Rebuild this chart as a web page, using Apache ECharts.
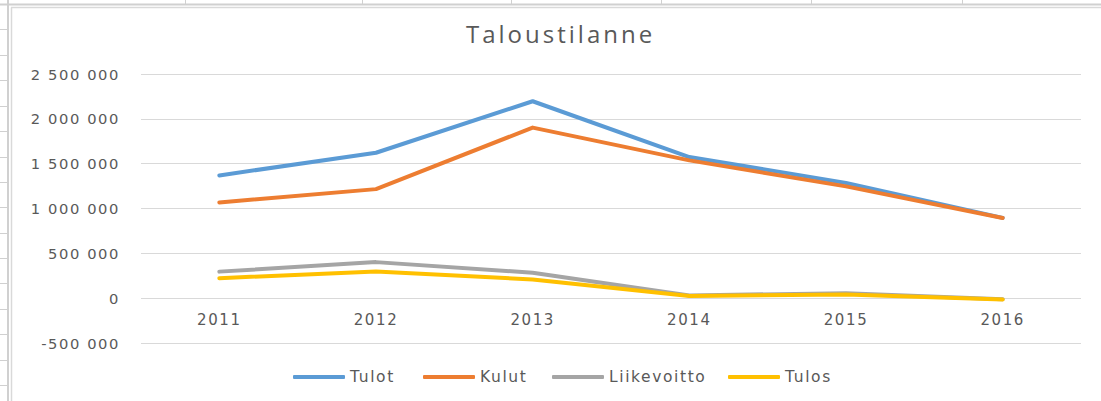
<!DOCTYPE html>
<html>
<head>
<meta charset="utf-8">
<script src="https://cdn.jsdelivr.net/npm/echarts@6/dist/echarts.min.js"></script>
<style>
  html, body { margin: 0; padding: 0; background: #fff; }
  #chart { width: 1101px; height: 401px; }
  #chart text { letter-spacing: 1.6px; }
  #chart text[style*="Open Sans"] { letter-spacing: 3px; }
</style>
</head>
<body>
<div id="chart"></div>
<script>
const categories = ['2011', '2012', '2013', '2014', '2015', '2016'];
const tulot = [1369000, 1622000, 2196000, 1574000, 1285000, 895000];
const kulut = [1068000, 1216000, 1902000, 1537000, 1247000, 895000];
const liikevoitto = [296000, 402000, 284000, 30000, 56000, -12000];
const tulos = [223000, 298000, 209000, 24000, 40000, -14000];
const seriesNames = ['Tulot', 'Kulut', 'Liikevoitto', 'Tulos'];
const seriesColors = ['#5B9BD5', '#ED7D31', '#A5A5A5', '#FFC000'];
const yTicks = { min: -500000, max: 2500000, step: 500000 };

const sheetCols = [185, 362, 511, 661, 811, 962];
const sheetRows = [29, 55, 80, 106, 131, 157, 182, 207, 233, 258, 283, 309, 334, 360, 385];

function fmt(v) {
  const neg = v < 0;
  const s = String(Math.abs(v)).replace(/\B(?=(\d{3})+(?!\d))/g, ' ');
  return (neg ? '-' : '') + s;
}

const chart = echarts.init(document.getElementById('chart'), null, { renderer: 'svg' });

const lineColor = '#d9d9d9';
const graphics = [];
graphics.push({ type: 'line', shape: { x1: 0, y1: 4.5, x2: 1101, y2: 4.5 }, style: { stroke: '#d0d0d0', lineWidth: 2 }, z: -1, silent: true });
sheetCols.forEach(x => graphics.push({ type: 'line', shape: { x1: x + 0.5, y1: 0, x2: x + 0.5, y2: 5 }, style: { stroke: '#d0d0d0', lineWidth: 1 }, z: -1, silent: true }));
graphics.push({ type: 'line', shape: { x1: 8, y1: 0, x2: 8, y2: 401 }, style: { stroke: '#d0d0d0', lineWidth: 2 }, z: -1, silent: true });
sheetRows.forEach(y => graphics.push({ type: 'line', shape: { x1: 0, y1: y + 0.5, x2: 8, y2: y + 0.5 }, style: { stroke: '#d0d0d0', lineWidth: 1 }, z: -1, silent: true }));
graphics.push({ type: 'line', shape: { x1: 11.5, y1: 7.5, x2: 11.5, y2: 401 }, style: { stroke: '#d9d9d9', lineWidth: 1.5 }, z: -1, silent: true });
graphics.push({ type: 'line', shape: { x1: 11, y1: 7.5, x2: 1101, y2: 7.5 }, style: { stroke: '#d9d9d9', lineWidth: 1.5 }, z: -1, silent: true });

const legendLefts = [293, 423, 552, 728];
const legends = seriesNames.map((n, i) => ({
  data: [n],
  left: legendLefts[i],
  top: 369,
  padding: 0,
  itemWidth: 52,
  itemHeight: 4,
  itemGap: 5,
  icon: 'roundRect',
  textStyle: { color: '#595959', fontSize: 15.5, fontFamily: 'DejaVu Sans' },
  selectedMode: false
}));

const seriesData = [tulot, kulut, liikevoitto, tulos];

chart.setOption({
  animation: false,
  backgroundColor: '#ffffff',
  color: seriesColors,
  title: {
    text: 'Taloustilanne',
    left: 466,
    top: 21,
    padding: 0,
    textStyle: { color: '#595959', fontSize: 24, fontWeight: 'normal', fontFamily: 'Open Sans' }
  },
  graphic: graphics,
  legend: legends,
  grid: { left: 141, right: 20, top: 74, bottom: 58, containLabel: false },
  xAxis: {
    type: 'category',
    data: categories,
    boundaryGap: true,
    offset: -45,
    axisLine: { show: false, onZero: false },
    axisTick: { show: false },
    axisLabel: { color: '#595959', fontSize: 15, fontFamily: 'DejaVu Sans', margin: 14 },
    splitLine: { show: false }
  },
  yAxis: {
    type: 'value',
    min: yTicks.min,
    max: yTicks.max,
    interval: yTicks.step,
    axisLine: { show: false },
    axisTick: { show: false },
    axisLabel: { color: '#595959', fontSize: 14.7, fontFamily: 'DejaVu Sans', margin: 21, formatter: fmt },
    splitLine: { show: true, lineStyle: { color: lineColor, width: 1 } }
  },
  series: seriesNames.map((n, i) => ({
    name: n,
    type: 'line',
    data: seriesData[i],
    symbol: 'none',
    showSymbol: false,
    lineStyle: { width: 4, cap: 'round', join: 'round', color: seriesColors[i] },
    itemStyle: { color: seriesColors[i] },
    z: 2 + i
  }))
});
</script>
</body>
</html>
